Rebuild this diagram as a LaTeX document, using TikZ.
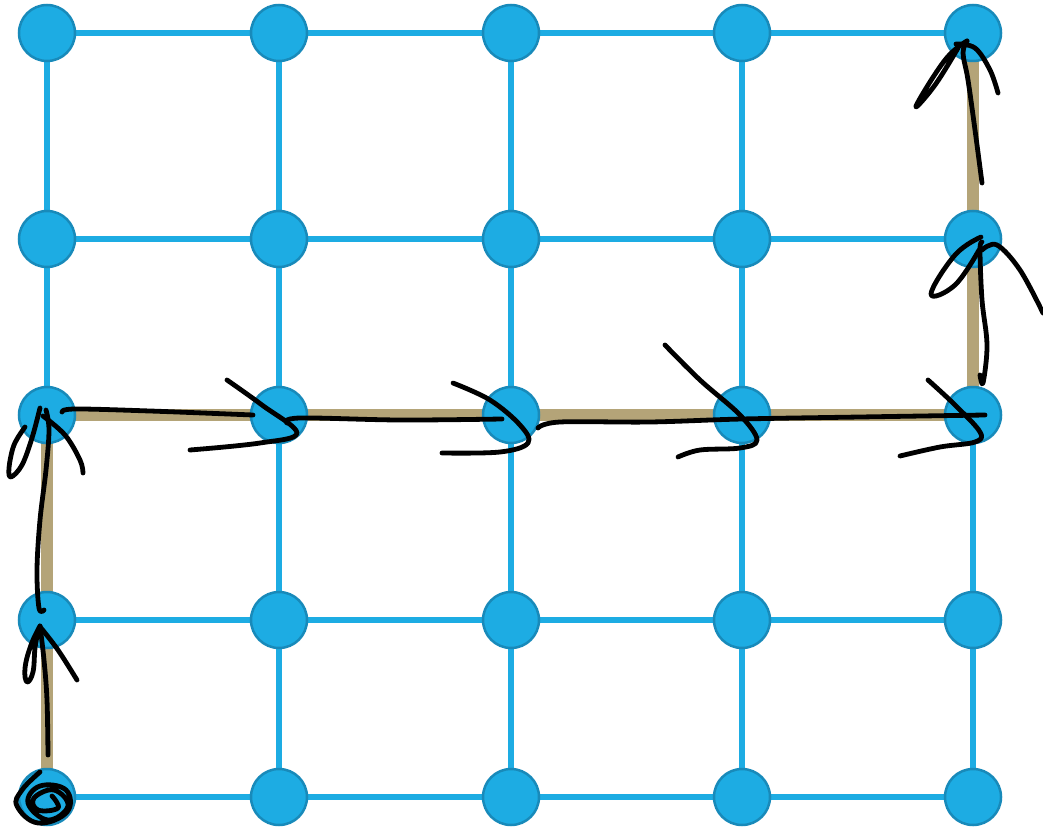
\documentclass[tikz,border=0pt]{standalone}
\usetikzlibrary{backgrounds}
\definecolor{dotblue}{RGB}{29,172,227}
\definecolor{dotedge}{RGB}{24,138,186}
\definecolor{pathtan}{RGB}{180,164,120}
\tikzset{
  dot/.style={circle, fill=dotblue, draw=dotedge, line width=2.5pt, minimum size=56pt, inner sep=0pt},
  gridedge/.style={draw=dotblue, line width=5.5pt},
  tanpath/.style={draw=pathtan, line width=12pt, line join=miter},
  ink/.style={draw=black, line width=4.8pt, line cap=round, line join=round}
}
\begin{document}
\begin{tikzpicture}[x=1pt,y=-1pt]
\useasboundingbox (0,0) rectangle (1043,829);
\foreach \r/\y in {1/33,2/239,3/415,4/620,5/797}{
  \foreach \c/\x in {1/47,2/279,3/511,4/742,5/973}{
    \node[dot] (n\r\c) at (\x,\y) {};
  }
}
\begin{scope}[on background layer]
  \foreach \r in {1,...,5}{
    \foreach \c/\d in {1/2,2/3,3/4,4/5}{
      \draw[gridedge] (n\r\c.center) -- (n\r\d.center);
    }
  }
  \foreach \c in {1,...,5}{
    \foreach \r/\s in {1/2,2/3,3/4,4/5}{
      \draw[gridedge] (n\r\c.center) -- (n\s\c.center);
    }
  }
  \draw[tanpath] (n51.center) -- (n41.center) -- (n31.center) -- (n32.center) -- (n33.center) -- (n34.center) -- (n35.center) -- (n25.center) -- (n15.center);
\end{scope}
% start scribble
\draw[ink] plot[smooth, tension=0.7] coordinates {(40,772) (22,790) (17,806) (38,823) (67,812) (66,790) (40,786) (28,803) (48,820) (68,806) (54,790) (34,798) (38,810) (58,808) (52,796)};
% arrow 1 (bottom up)
\draw[ink] plot[smooth, tension=0.6] coordinates {(48,755) (47,700) (44,660) (40,626)};
\draw[ink] plot[smooth, tension=0.7] coordinates {(40,626) (31,645) (25,668) (27,682) (33,672) (35,648) (38,632)};
\draw[ink] plot[smooth, tension=0.6] coordinates {(41,628) (58,650) (77,680)};
% arrow 2 (up to row 3)
\draw[ink] plot[smooth, tension=0.6] coordinates {(44,610) (39,608) (37,570) (40,520) (46,470) (49,430) (46,410)};
\draw[ink] plot[smooth, tension=0.6] coordinates {(25,427) (14,445) (9,468) (11,477) (22,465) (32,438) (40,408)};
\draw[ink] plot[smooth, tension=0.6] coordinates {(43,416) (65,435) (80,460) (83,473)};
% horizontal strokes
\draw[ink] plot[smooth, tension=0.6] coordinates {(62,412) (75,409) (150,411) (253,415)};
\draw[ink] plot[smooth, tension=0.6] coordinates {(227,380) (262,405) (297,433) (260,443) (190,450)};
\draw[ink] plot[smooth, tension=0.6] coordinates {(287,423) (300,418) (400,420) (502,419)};
\draw[ink] plot[smooth, tension=0.6] coordinates {(453,383) (490,400) (520,425) (528,443) (500,452) (442,453)};
\draw[ink] plot[smooth, tension=0.6] coordinates {(538,428) (560,422) (650,422) (742,419) (860,417) (985,415)};
\draw[ink] plot[smooth, tension=0.6] coordinates {(665,345) (700,380) (740,415) (757,440) (740,448) (700,450) (678,457)};
\draw[ink] plot[smooth, tension=0.6] coordinates {(928,380) (955,405) (980,432) (975,442) (940,447) (900,456)};
% vertical up to row 2
\draw[ink] plot[smooth, tension=0.6] coordinates {(980,375) (983,383) (987,345) (982,300) (980,250) (982,242)};
\draw[ink] plot[smooth, tension=0.7] coordinates {(981,237) (955,255) (931,294) (955,285) (979,250)};
\draw[ink] plot[smooth, tension=0.6] coordinates {(982,250) (997,245) (1020,270) (1043,313)};
% vertical up to row 1
\draw[ink] plot[smooth, tension=0.6] coordinates {(982,183) (975,130) (968,80) (963,53) (967,41)};
\draw[ink] plot[smooth, tension=0.7] coordinates {(967,41) (945,60) (916,106) (935,85) (958,48)};
\draw[ink] plot[smooth, tension=0.6] coordinates {(956,44) (975,48) (990,70) (998,93)};
\end{tikzpicture}
\end{document}
